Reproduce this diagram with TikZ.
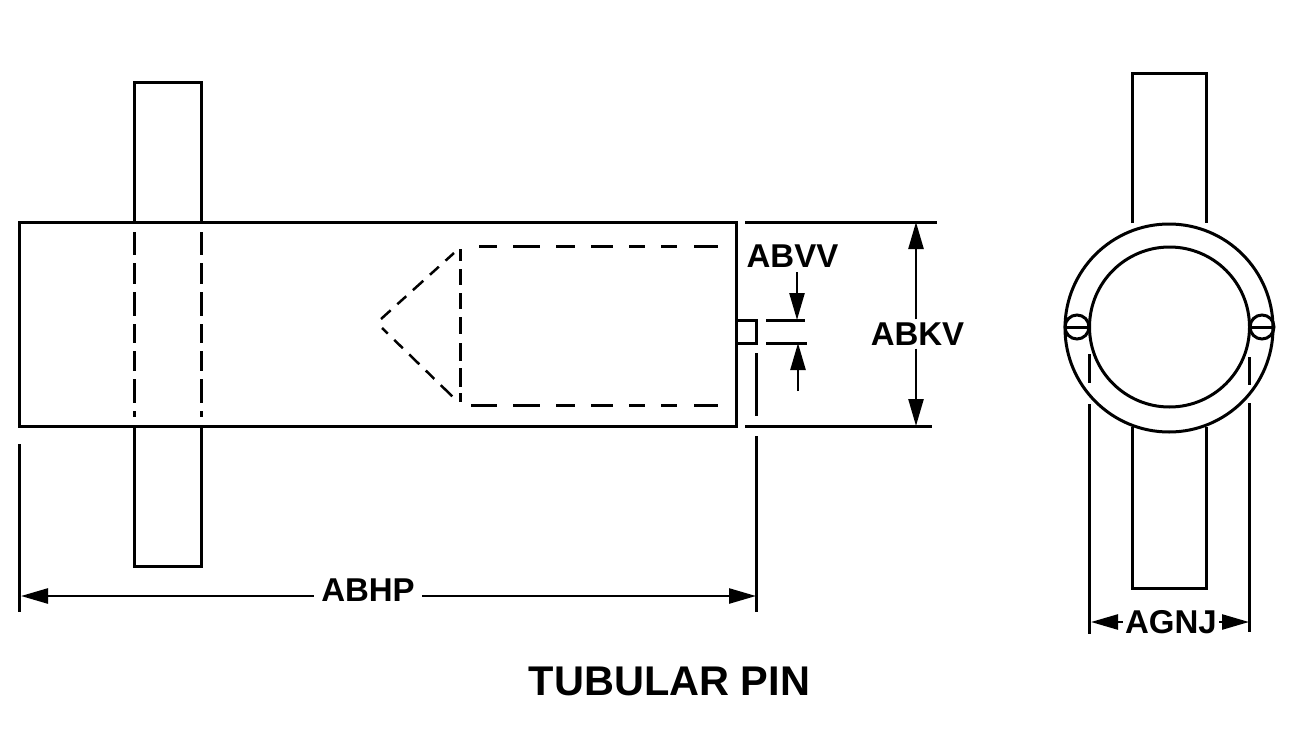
\documentclass[tikz,border=0pt]{standalone}
\usepackage{fontspec}
\setmainfont{Liberation Sans}
\usetikzlibrary{arrows.meta}
\tikzset{
  part/.style={line width=3bp},
  pin/.style={draw,circle,line width=3bp,inner sep=0pt},
  hiddenbar/.style={line width=3bp,dash pattern=on 23bp off 8bp on 21bp off 8bp on 24bp off 8bp on 19bp off 8bp on 20bp off 8bp on 24bp off 8bp on 6bp off 9bp},
  hiddenend/.style={line width=3bp,dash pattern=on 12bp off 8bp on 16bp off 8bp on 16bp off 8bp on 17bp off 9bp on 18bp off 7bp on 19bp off 6bp on 9bp off 9bp},
  hiddenbore/.style={line width=3bp,dash pattern=on #1 off 16bp on 27bp off 16bp on 19bp off 16bp on 22bp off 16bp on 16bp off 16bp on 16bp off 17bp on 24bp off 9bp},
  hiddentip/.style={line width=2.5bp,dash pattern=on #1 off 9bp on 12bp off 9bp on 14bp off 9bp on 12bp off 9bp on 16bp off 9bp},
  dimline/.style={line width=2.5bp,-{Triangle[length=27bp,width=15bp]}},
  dimtext/.style={font=\fontsize{33bp}{33bp}\selectfont\bfseries,inner xsep=7.5bp,inner ysep=3bp},
}
\begin{document}
\begin{tikzpicture}
\useasboundingbox (0bp,0bp) rectangle (1290bp,-755bp);
% side view
\draw [part] (19bp,-222bp) rectangle (736bp,-426bp);
\draw [part] (134bp,-222bp) -- (134bp,-82bp) -- (201bp,-82bp) -- (201bp,-222bp);
\draw [part] (134bp,-426bp) -- (134bp,-566bp) -- (201bp,-566bp) -- (201bp,-426bp);
\draw [hiddenbar] (134bp,-232bp) -- (134bp,-417bp);
\draw [hiddenbar] (201bp,-232bp) -- (201bp,-417bp);
\draw [hiddenend] (460bp,-249bp) -- (460bp,-402bp);
\draw [hiddenbore={18bp}] (479bp,-246bp) -- (718bp,-246bp);
\draw [hiddenbore={26bp}] (471bp,-405bp) -- (718bp,-405bp);
\draw [hiddentip={13bp}] (381bp,-319bp) -- (454bp,-253bp);
\draw [hiddentip={8bp}] (382bp,-328bp) -- (454bp,-398bp);
\draw [part] (736bp,-320bp) -- (756bp,-320bp) -- (756bp,-343bp) -- (736bp,-343bp);
% extension lines
\draw [part] (766bp,-320bp) -- (805bp,-320bp);
\draw [part] (766bp,-343bp) -- (807bp,-343bp);
\draw [part] (745bp,-222bp) -- (937bp,-222bp);
\draw [part] (745bp,-426bp) -- (932bp,-426bp);
\draw [part] (756bp,-353bp) -- (756bp,-416bp);
\draw [part] (756bp,-436bp) -- (756bp,-612bp);
\draw [part] (19bp,-444bp) -- (19bp,-612bp);
% dimensions
\node (ABVV) at (792.5bp,-256bp)[dimtext] {ABVV};
\node (ABKV) at (917.5bp,-334bp)[dimtext] {ABKV};
\node (ABHP) at (368bp,-590bp)[dimtext] {ABHP};
\node (AGNJ) at (1171bp,-622bp)[dimtext,inner xsep=2bp] {AGNJ};
\node (title) at (669.5bp,-681bp)[font=\fontsize{41.5bp}{41.5bp}\selectfont\bfseries] {TUBULAR PIN};
\coordinate (vvtop) at (797bp,-272bp);
\coordinate (vvtopend) at (797bp,-320bp);
\coordinate (vvbot) at (798bp,-391bp);
\coordinate (vvbotend) at (798bp,-343bp);
\coordinate (kvtop) at (916bp,-222bp);
\coordinate (kvbot) at (916bp,-426bp);
\coordinate (hpleft) at (21bp,-596bp);
\coordinate (hpright) at (756bp,-596bp);
\coordinate (njleft) at (1091bp,-622bp);
\coordinate (njright) at (1249bp,-622bp);
\draw [dimline] (vvtop) -- (vvtopend);
\draw [dimline] (vvbot) -- (vvbotend);
\draw [dimline] (ABKV.north -| kvtop) -- (kvtop);
\draw [dimline] (ABKV.south -| kvbot) -- (kvbot);
\draw [dimline] (ABHP.west |- hpleft) -- (hpleft);
\draw [dimline] (ABHP.east |- hpright) -- (hpright);
\draw [dimline] (AGNJ.west) -- (njleft);
\draw [dimline] (AGNJ.east) -- (njright);
% end view
\draw [part] (1132bp,-223bp) -- (1132bp,-73bp) -- (1206bp,-73bp) -- (1206bp,-223bp);
\draw [part] (1132bp,-427bp) -- (1132bp,-588bp) -- (1206bp,-588bp) -- (1206bp,-427bp);
\node (outer) at (1169bp,-328bp)[pin,minimum size=208bp] {};
\node (inner) at (1169.5bp,-327bp)[pin,minimum size=160bp] {};
\node (screwL) at (1077bp,-327bp)[pin,minimum size=24bp] {};
\node (screwR) at (1262bp,-327bp)[pin,minimum size=24bp] {};
\draw [part,shorten <=1bp,shorten >=1bp] (screwL.west) -- (screwL.east);
\draw [part,shorten <=1bp,shorten >=1bp] (screwR.west) -- (screwR.east);
\draw [part] (1089bp,-354bp) -- (1089bp,-383bp);
\draw [part] (1089bp,-404bp) -- (1089bp,-634bp);
\draw [part] (1249bp,-357bp) -- (1249bp,-385bp);
\draw [part] (1249bp,-403bp) -- (1249bp,-632bp);
\end{tikzpicture}
\end{document}
